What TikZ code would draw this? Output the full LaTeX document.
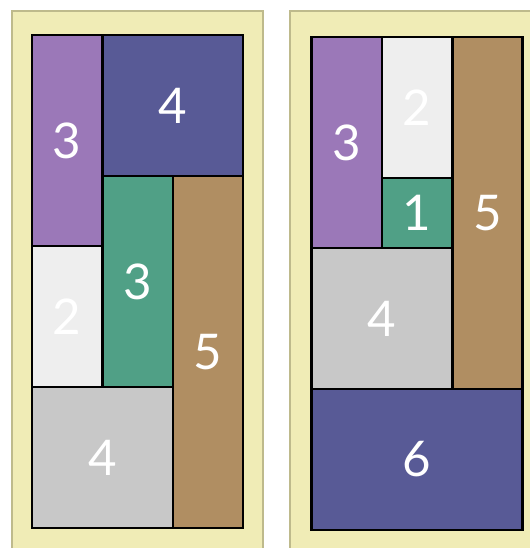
\documentclass[tikz,border=0pt]{standalone}
\usepackage{fontspec}
\setsansfont{Lato}
\usetikzlibrary{calc}
\definecolor{tpurple}{RGB}{155,120,184}
\definecolor{tnavy}{RGB}{88,90,150}
\definecolor{tgreen}{RGB}{80,160,134}
\definecolor{tbrown}{RGB}{176,142,98}
\definecolor{twhite}{RGB}{238,238,238}
\definecolor{tgray}{RGB}{200,200,200}
\definecolor{framefill}{RGB}{240,236,182}
\definecolor{frameedge}{RGB}{190,186,140}
\def\cell{70.4}
% #1 name, #2 panel origin, #3 col, #4 row, #5 width, #6 height, #7 colour, #8 label
\newcommand{\tile}[8]{%
  \path (#2) ++(#3*\cell, #4*\cell) coordinate (#1-a) ++(#5*\cell, #6*\cell) coordinate (#1-b);
  \draw[tileline, fill=#7] (#1-a) rectangle (#1-b);
  \node[num] (#1) at ($(#1-a)!0.5!(#1-b)$) {#8};
}

\begin{document}
\begin{tikzpicture}[x=0.02cm, y=-0.02cm,
    tileline/.style={draw=black, line width=1.4pt},
    num/.style={text=white, font=\sffamily\fontsize{28}{30}\selectfont, inner sep=0pt},
    frame/.style={fill=framefill, draw=frameedge, line width=0.8pt}
]
\useasboundingbox (0,0) rectangle (530,548);
\clip (0,0) rectangle (530,548);
\fill[white] (0,0) rectangle (530,548);

% Frames
\draw[frame] (12,11) rectangle (263,560);
\draw[frame] (290,11) rectangle (540,560);

% Left panel
\coordinate (lo) at (32,35);
\tile{lpurple}{lo}{0}{0}{1}{3}{tpurple}{3}
\tile{lnavy}{lo}{1}{0}{2}{2}{tnavy}{4}
\tile{lwhite}{lo}{0}{3}{1}{2}{twhite}{2}
\tile{lgreen}{lo}{1}{2}{1}{3}{tgreen}{3}
\tile{lbrown}{lo}{2}{2}{1}{5}{tbrown}{5}
\tile{lgray}{lo}{0}{5}{2}{2}{tgray}{4}

% Right panel
\coordinate (ro) at (311.5,37);
\tile{rpurple}{ro}{0}{0}{1}{3}{tpurple}{3}
\tile{rwhite}{ro}{1}{0}{1}{2}{twhite}{2}
\tile{rgreen}{ro}{1}{2}{1}{1}{tgreen}{1}
\tile{rbrown}{ro}{2}{0}{1}{5}{tbrown}{5}
\tile{rgray}{ro}{0}{3}{2}{2}{tgray}{4}
\tile{rnavy}{ro}{0}{5}{3}{2}{tnavy}{6}

\end{tikzpicture}
\end{document}
